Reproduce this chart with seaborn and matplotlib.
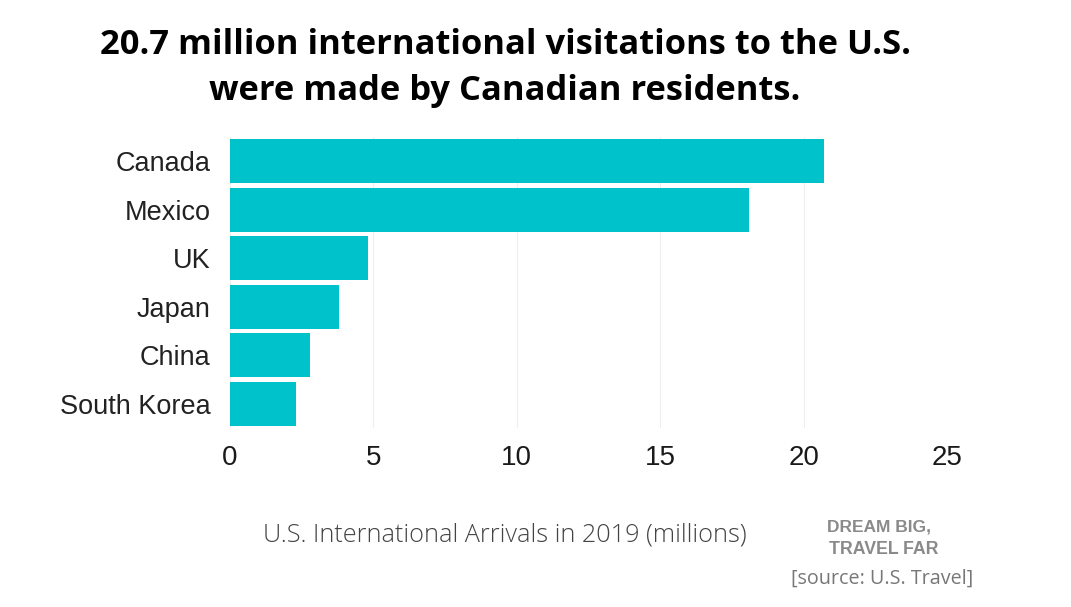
import matplotlib
matplotlib.use('Agg')
import matplotlib.pyplot as plt
import pandas as pd
import seaborn as sns

countries = ["Canada", "Mexico", "UK", "Japan", "China", "South Korea"]
arrivals = [20.7, 18.1, 4.8, 3.8, 2.8, 2.3]
x_ticks = [0, 5, 10, 15, 20, 25]

sns.set_theme(style="white")
plt.rcParams['font.family'] = ['Liberation Sans', 'DejaVu Sans']

df = pd.DataFrame({"country": countries, "arrivals": arrivals})

fig = plt.figure(figsize=(10.71, 6.07), dpi=100)
ax = fig.add_axes([230 / 1071, 1 - 428.3 / 607, (947 - 230) / 1071, 291.6 / 607])

sns.barplot(data=df, x="arrivals", y="country", color="#00c2cb", saturation=1,
            width=0.905, linewidth=0, ax=ax, zorder=3)

ax.set_xlim(0, 25)
ax.set_xticks(x_ticks)
ax.set_xlabel("")
ax.set_ylabel("")
ax.grid(axis='x', color='#eeeeee', linewidth=0.8, zorder=0)
sns.despine(ax=ax, left=True, bottom=True, top=True, right=True)
ax.tick_params(axis='x', labelsize=20, length=0, pad=12, colors='#1a1a1a')
ax.tick_params(axis='y', labelsize=19.5, length=0, pad=14, colors='#222222')

# titel
fig.text(505 / 1071, 1 - 45 / 607, "20.7 million international visitations to the U.S.",
         ha='center', va='center', fontsize=24.8, fontweight='bold',
         family=['Open Sans', 'DejaVu Sans'], color='black')
fig.text(505 / 1071, 1 - 91 / 607, "were made by Canadian residents.",
         ha='center', va='center', fontsize=24.8, fontweight='bold',
         family=['Open Sans', 'DejaVu Sans'], color='black')

fig.text(505 / 1071, 1 - 535 / 607, "U.S. International Arrivals in 2019 (millions)",
         ha='center', va='center', fontsize=18.2, family=['Open Sans', 'DejaVu Sans'],
         color='#444444', fontweight='light')
fig.text(827 / 1071, 1 - 527 / 607, "DREAM BIG,", ha='left', va='center', fontsize=12.5,
         fontweight='bold', color='#8a8a8a')
fig.text(829 / 1071, 1 - 549 / 607, "TRAVEL FAR", ha='left', va='center', fontsize=12.8,
         fontweight='bold', color='#8a8a8a')
fig.text(882 / 1071, 1 - 579 / 607, "[source: U.S. Travel]", ha='center', va='center',
         fontsize=14.2, family=['Open Sans', 'DejaVu Sans'], color='#777777')

fig.savefig("out.png", dpi=100)
